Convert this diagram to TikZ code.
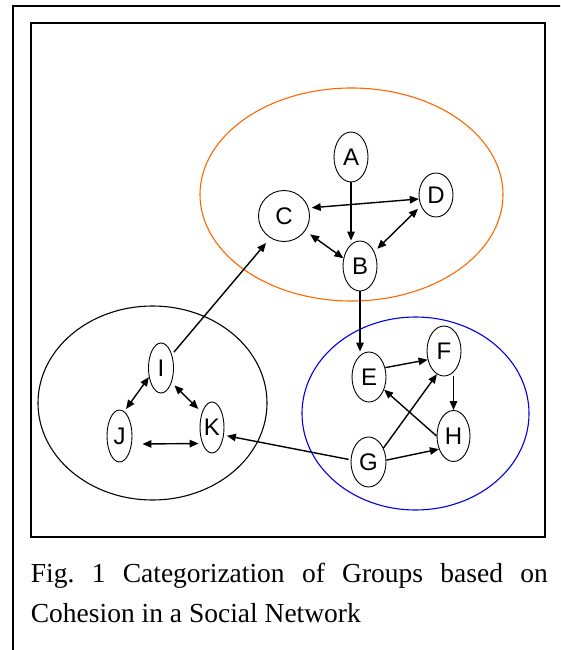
\documentclass[tikz,border=0pt]{standalone}
\usepackage{fontspec}
\setmainfont{Liberation Serif}
\newfontfamily\nodefont{Liberation Sans}
\usetikzlibrary{shapes.geometric,arrows.meta}
\definecolor{grporange}{RGB}{255,102,0}
\definecolor{grpblue}{RGB}{0,0,230}
\tikzset{
  vtx/.style={ellipse,draw,line width=0.9pt,inner sep=0pt,font=\nodefont\fontsize{24}{26}\selectfont},
  edge/.style={line width=1.4pt,-{Triangle[length=9pt,width=7.5pt]}},
  biedge/.style={line width=1.4pt,{Triangle[length=9pt,width=7.5pt]}-{Triangle[length=9pt,width=7.5pt]}},
  group/.style={line width=1.1pt},
  frame/.style={line width=2.2pt}
}
\begin{document}
\begin{tikzpicture}[x=1pt,y=-1pt]
\useasboundingbox (0,0) rectangle (560,650);
\clip (0,0) rectangle (560,650);
% frames
\draw[frame] (13,660) -- (13,6) -- (570,6);
\draw[line width=2pt] (30.5,23) rectangle (545,536.5);
% group ellipses
\draw[group,grporange] (351.5,194.5) ellipse [x radius=151.5,y radius=106.5];
\draw[group,grpblue] (415.5,413.5) ellipse [x radius=113.5,y radius=96.5];
\draw[group] (152.5,403) ellipse [x radius=114.5,y radius=97];
% nodes
\node[vtx,minimum width=34pt,minimum height=50pt] (A) at (351,157) {A};
\node[vtx,minimum width=34pt,minimum height=44pt] (D) at (436,195) {D};
\node[vtx,minimum width=51pt,minimum height=51pt] (C) at (284,216) {C};
\node[vtx,minimum width=34pt,minimum height=50pt] (B) at (360,266) {B};
\node[vtx,minimum width=34pt,minimum height=50pt] (E) at (369,377) {E};
\node[vtx,minimum width=34pt,minimum height=50pt] (F) at (444,351) {F};
\node[vtx,minimum width=33pt,minimum height=51pt] (H) at (453.5,436) {H};
\node[vtx,minimum width=35pt,minimum height=50pt] (G) at (368.5,462) {G};
\node[vtx,minimum width=25pt,minimum height=50pt] (I) at (161,368) {I};
\node[vtx,minimum width=25pt,minimum height=52pt] (J) at (119.5,436) {J};
\node[vtx,minimum width=24pt,minimum height=51pt] (K) at (212,427.5) {K};
% edges: top group
\draw[edge] (A.south) -- (A.south |- B.north);
\draw[biedge,shorten <=3pt] (C.18) -- (D.193);
\draw[biedge,shorten <=6pt] (C.-35) -- (B.155);
\draw[biedge,shorten <=4pt,shorten >=4pt] (D.216) -- (B.45);
% between groups
\draw[edge,shorten <=3pt,shorten >=6.5pt] (I.51) -- (C.238);
\draw[edge] (B.south) -- (B.south |- E.north);
\draw[edge,shorten <=2pt,shorten >=3pt] (G.173) -- (K.-33);
% right group
\draw[edge] (E.30) -- (F.208);
\draw[edge] (F.south -| H.north) -- (H.north);
\draw[edge] (H.180) -- (E.-40);
\draw[edge] (G.43) -- (F.253);
\draw[edge] (G.6) -- (H.222);
% left group
\draw[biedge,shorten >=3pt] (I.217) -- (J.79);
\draw[biedge,shorten <=4pt,shorten >=5pt] (I.-54) -- (K.124);
\draw[biedge] ([shift={(10,8)}]J.east) -- ([shift={(-1,16)}]K.west);
% caption
\node[anchor=base west,inner sep=0pt,font=\fontsize{27.5}{30}\selectfont] (cap1) at (30.7,582)
  {\makebox[517pt][s]{Fig.\ 1 Categorization of Groups based on}};
\node[anchor=base west,inner sep=0pt,font=\fontsize{27.5}{30}\selectfont] (cap2) at (30.7,622)
  {Cohesion in a Social Network};
\end{tikzpicture}
\end{document}
